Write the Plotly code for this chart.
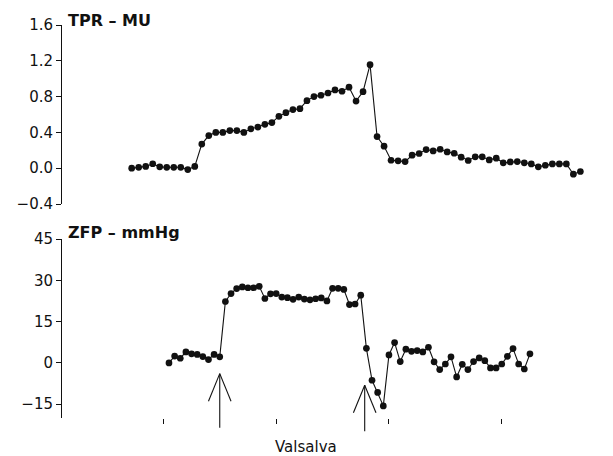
import plotly.graph_objects as go

# ---- data -------------------------------------------------------------
tpr_sample = list(range(1, 66))
tpr_mu = [0.00, 0.01, 0.02, 0.05, 0.015, 0.01, 0.01, 0.01, -0.015, 0.02,
          0.27, 0.365, 0.40, 0.40, 0.42, 0.42, 0.40, 0.44, 0.46, 0.49,
          0.51, 0.58, 0.62, 0.655, 0.665, 0.755, 0.80, 0.815, 0.84, 0.875,
          0.86, 0.905, 0.75, 0.855, 1.157, 0.353, 0.246, 0.089, 0.082, 0.074,
          0.145, 0.164, 0.208, 0.193, 0.212, 0.182, 0.167, 0.123, 0.086, 0.127,
          0.127, 0.093, 0.112, 0.06, 0.07, 0.074, 0.06, 0.048, 0.015, 0.033,
          0.048, 0.048, 0.048, -0.067, -0.037]

zfp_sample = list(range(1, 66))
zfp_mmhg = [0.0, 2.5, 1.7, 4.0, 3.3, 3.1, 2.3, 1.2, 3.1, 2.2,
            22.3, 25.2, 27.0, 27.6, 27.3, 27.3, 27.8, 23.4, 25.1, 25.2,
            23.9, 23.7, 23.1, 23.9, 23.2, 22.9, 23.3, 23.6, 22.5, 27.1,
            27.1, 26.7, 21.2, 21.4, 24.6, 5.3, -6.3, -10.7, -15.6, 2.9,
            7.4, 0.5, 5.0, 4.2, 4.5, 4.0, 5.7, 0.4, -2.4, -0.4,
            2.2, -5.1, -0.5, -2.4, 0.5, 1.8, 0.8, -1.8, -1.8, -0.4,
            2.4, 5.2, -0.4, -2.2, 3.3]

tpr_ticks = [-0.4, 0.0, 0.4, 0.8, 1.2, 1.6]
zfp_ticks = [-15, 0, 15, 30, 45]
time_ticks = [0, 20, 40, 60]

# Valsalva start / release markers (sample position on the ZFP axis)
valsalva_marks = [10.0, 35.7]

# ---- layout geometry --------------------------------------------------
W, H = 613, 456
ML, MR, MT, MB = 62, 13, 25, 38
plot_h = H - MT - MB
top_dom = [(H - MB - 204) / plot_h, 1.0]
bot_dom = [0.0, (H - MB - 239) / plot_h]

tpr_range = [-0.4, 1.6]
zfp_range = [-20, 45]
x1_range = [-8.94, 67.80]
x2_range = [-17.97, 77.42]

FONT = "DejaVu Sans"
BLACK = "#111111"


def zfp_to_paper(v):
    f = (v - zfp_range[0]) / (zfp_range[1] - zfp_range[0])
    return bot_dom[0] + f * (bot_dom[1] - bot_dom[0])


def series(x, y, xa, ya):
    return go.Scatter(x=x, y=y, xaxis=xa, yaxis=ya, mode="lines+markers",
                      line=dict(color=BLACK, width=1.1),
                      marker=dict(symbol="circle", size=6.7, color=BLACK),
                      hoverinfo="skip", showlegend=False, cliponaxis=False)


fig = go.Figure()
fig.add_trace(series(tpr_sample, tpr_mu, "x", "y"))
fig.add_trace(series(zfp_sample, zfp_mmhg, "x2", "y2"))

# open arrows marking the Valsalva manoeuvre
arrow_geom = [(-3.9, -23.5, -13.9), (-8.1, -24.8, -18.1)]
shapes = []
for xm, (tip, tail, wing) in zip(valsalva_marks, arrow_geom):
    common = dict(type="line", xref="x2", yref="paper",
                  line=dict(color=BLACK, width=1.1))
    shapes.append(dict(x0=xm, x1=xm, y0=zfp_to_paper(tip), y1=zfp_to_paper(tail), **common))
    shapes.append(dict(x0=xm, x1=xm - 2.0, y0=zfp_to_paper(tip), y1=zfp_to_paper(wing), **common))
    shapes.append(dict(x0=xm, x1=xm + 2.0, y0=zfp_to_paper(tip), y1=zfp_to_paper(wing), **common))

axis_font = dict(family=FONT, size=15, color=BLACK)

fig.update_layout(
    width=W, height=H,
    margin=dict(l=ML, r=MR, t=MT, b=MB),
    paper_bgcolor="white", plot_bgcolor="white",
    font=axis_font,
    shapes=shapes,
    xaxis=dict(domain=[0, 1], anchor="y", range=x1_range, visible=False),
    yaxis=dict(domain=top_dom, anchor="x", range=tpr_range,
               tickvals=tpr_ticks, tickformat=".1f",
               showline=True, linecolor=BLACK, linewidth=1,
               ticks="outside", ticklen=5, tickcolor=BLACK, tickwidth=1,
               showgrid=False, zeroline=False, tickfont=axis_font),
    xaxis2=dict(domain=[0, 1], anchor="y2", range=x2_range,
                tickvals=time_ticks, showticklabels=False,
                ticks="outside", ticklen=5, tickcolor=BLACK, tickwidth=1,
                showline=False, showgrid=False, zeroline=False),
    yaxis2=dict(domain=bot_dom, anchor="x2", range=zfp_range,
                tickvals=zfp_ticks,
                showline=True, linecolor=BLACK, linewidth=1,
                ticks="outside", ticklen=5, tickcolor=BLACK, tickwidth=1,
                showgrid=False, zeroline=False, tickfont=axis_font),
    annotations=[
        dict(text="<b>TPR – MU</b>", xref="paper", yref="paper",
             x=0, y=top_dom[1], xanchor="left", yanchor="middle",
             xshift=4, yshift=5, showarrow=False,
             font=dict(family=FONT, size=16, color=BLACK)),
        dict(text="<b>ZFP – mmHg</b>", xref="paper", yref="paper",
             x=0, y=bot_dom[1], xanchor="left", yanchor="middle",
             xshift=4, yshift=7, showarrow=False,
             font=dict(family=FONT, size=16, color=BLACK)),
        dict(text="Valsalva", xref="x2", yref="paper",
             x=25.3, y=0, xanchor="center", yanchor="middle",
             yshift=-29, showarrow=False,
             font=dict(family=FONT, size=15, color=BLACK)),
    ],
)

fig.write_html("out.html")
